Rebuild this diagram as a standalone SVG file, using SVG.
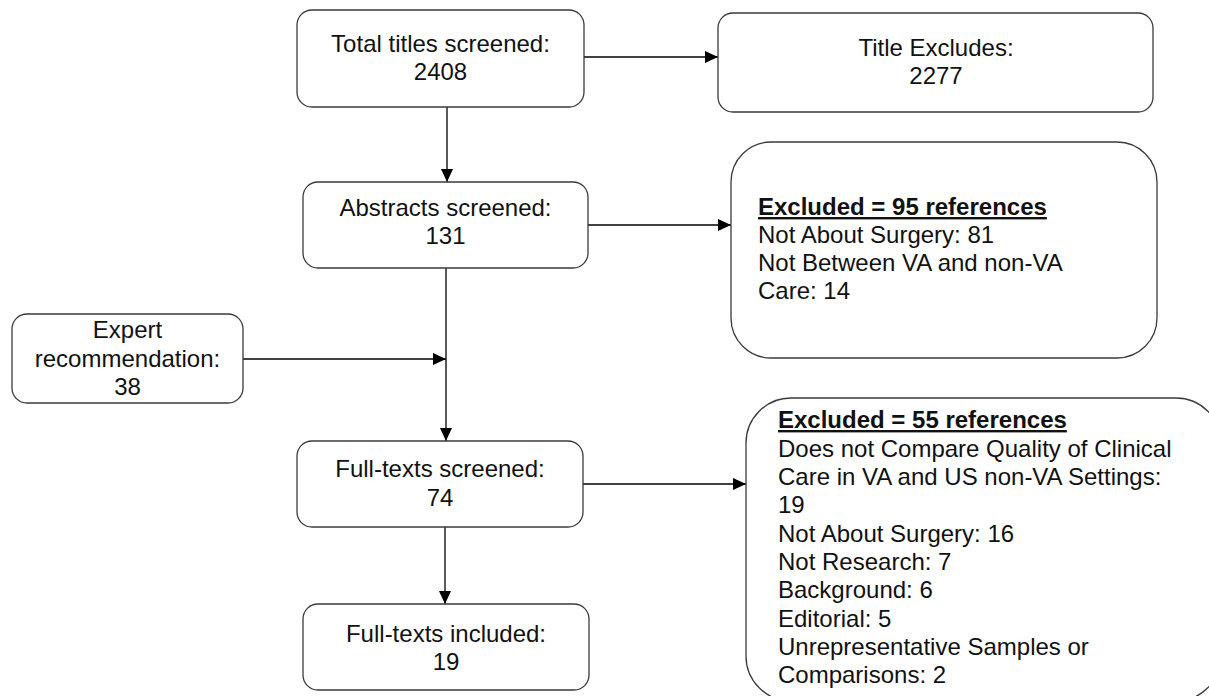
<svg xmlns="http://www.w3.org/2000/svg" width="1209" height="696" viewBox="0 0 1209 696">
<defs>
<style>
.box{fill:#fff;stroke:#3a3a3a;stroke-width:1.3}
.t{font-family:"Liberation Sans",Arial,sans-serif;font-size:24px;fill:#111}
.c{text-anchor:middle}
.b{font-weight:bold;text-decoration:underline}
.ln{stroke:#000;stroke-width:1.3;fill:none}
</style>
<marker id="ah" markerWidth="13" markerHeight="12" refX="13" refY="6" orient="auto" markerUnits="userSpaceOnUse">
<path d="M0,0 L13,6 L0,12 Z" fill="#000"/>
</marker>
</defs>
<rect width="1209" height="696" fill="#fff"/>
<g id="connectors">
<line class="ln" x1="584" y1="57" x2="718" y2="57" marker-end="url(#ah)"/>
<line class="ln" x1="447" y1="107" x2="447" y2="182" marker-end="url(#ah)"/>
<line class="ln" x1="588" y1="225" x2="731" y2="225" marker-end="url(#ah)"/>
<line class="ln" x1="446" y1="268" x2="446" y2="441" marker-end="url(#ah)"/>
<line class="ln" x1="243" y1="359" x2="446" y2="359" marker-end="url(#ah)"/>
<line class="ln" x1="583" y1="484" x2="746" y2="484" marker-end="url(#ah)"/>
<line class="ln" x1="445" y1="527" x2="445" y2="604" marker-end="url(#ah)"/>
</g>
<g id="total">
<rect class="box" x="297" y="10" width="287" height="97" rx="15"/>
<text class="t c" x="440.5" y="52">Total titles screened:</text>
<text class="t c" x="440.5" y="80">2408</text>
</g>
<g id="titleExcludes">
<rect class="box" x="718" y="13" width="435" height="99" rx="15"/>
<text class="t c" x="936" y="56">Title Excludes:</text>
<text class="t c" x="936" y="84">2277</text>
</g>
<g id="abstracts">
<rect class="box" x="303" y="182" width="285" height="86" rx="15"/>
<text class="t c" x="445.5" y="216">Abstracts screened:</text>
<text class="t c" x="445.5" y="244">131</text>
</g>
<g id="excluded95">
<rect class="box" x="731" y="142" width="426" height="216" rx="40"/>
<text class="t b" x="758" y="215">Excluded = 95 references</text>
<text class="t" x="758" y="243">Not About Surgery: 81</text>
<text class="t" x="758" y="271">Not Between VA and non-VA</text>
<text class="t" x="758" y="299">Care: 14</text>
</g>
<g id="expert">
<rect class="box" x="12" y="314" width="231" height="89" rx="15"/>
<text class="t c" x="127.5" y="338">Expert</text>
<text class="t c" x="127.5" y="367">recommendation:</text>
<text class="t c" x="127.5" y="395">38</text>
</g>
<g id="fulltextsScreened">
<rect class="box" x="297" y="441" width="286" height="86" rx="15"/>
<text class="t c" x="440" y="477">Full-texts screened:</text>
<text class="t c" x="440" y="506">74</text>
</g>
<g id="excluded55">
<rect class="box" x="746" y="398" width="475" height="303" rx="45"/>
<text class="t b" x="778" y="428">Excluded = 55 references</text>
<text class="t" x="778" y="457">Does not Compare Quality of Clinical</text>
<text class="t" x="778" y="485">Care in VA and US non-VA Settings:</text>
<text class="t" x="778" y="513">19</text>
<text class="t" x="778" y="542">Not About Surgery: 16</text>
<text class="t" x="778" y="570">Not Research: 7</text>
<text class="t" x="778" y="598">Background: 6</text>
<text class="t" x="778" y="627">Editorial: 5</text>
<text class="t" x="778" y="655">Unrepresentative Samples or</text>
<text class="t" x="778" y="683">Comparisons: 2</text>
</g>
<g id="fulltextsIncluded">
<rect class="box" x="303" y="604" width="286" height="86" rx="15"/>
<text class="t c" x="446" y="642">Full-texts included:</text>
<text class="t c" x="446" y="670">19</text>
</g>
</svg>
